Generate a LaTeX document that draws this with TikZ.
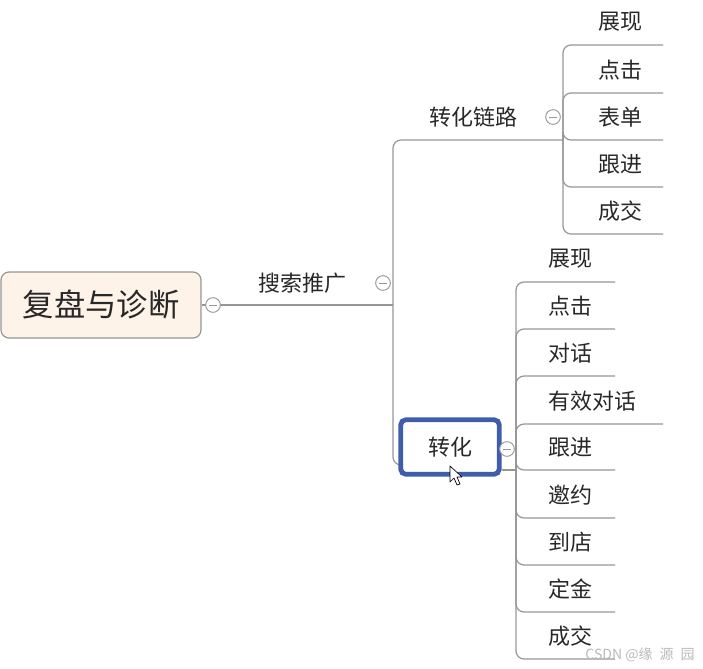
\documentclass[tikz,border=0pt]{standalone}
\usepackage{fontspec}
\setmainfont{Noto Sans CJK SC}
\usetikzlibrary{positioning, backgrounds}
\definecolor{mygray}{RGB}{150,150,150}
\definecolor{mytext}{RGB}{40,40,40}
\definecolor{rootfill}{RGB}{253,243,233}
\definecolor{selblue}{RGB}{62,94,172}
\definecolor{wmgray}{RGB}{185,185,185}
\tikzset{
  rootbox/.style={rectangle, draw=mygray, fill=rootfill, rounded corners=6pt, line width=0.9pt, minimum width=150pt, minimum height=49.5pt, font=\fontsize{23.5}{23.5}\selectfont, text=mytext},
  topic/.style={font=\fontsize{16.5}{16.5}\selectfont, text=mytext, inner sep=0pt},
  selbox/.style={rectangle, draw=selblue, fill=white, line width=3.6pt, rounded corners=4pt, minimum width=74pt, minimum height=41pt, font=\fontsize{16.5}{16.5}\selectfont, text=mytext},
  conn/.style={draw=mygray, line width=0.9pt, rounded corners=6pt},
  foldmark/.style={circle, draw=mygray, fill=white, line width=0.7pt, minimum size=11pt, inner sep=0pt, path picture={\draw[mygray, line width=0.7pt] ([xshift=-3pt]path picture bounding box.center) -- ([xshift=3pt]path picture bounding box.center);}},
  pointer/.style={fill=white, draw=black, line width=0.5pt, line join=round}
}
\begin{document}
\begin{tikzpicture}[x=0.75pt, y=-0.75pt]
  \useasboundingbox (0,0) rectangle (703,668);

  % Root topic
  \node[rootbox] (root) at (101,305) {复盘与诊断};
  \node[foldmark] (root-f) at (213,305) {};

  % Main branch
  \node[topic] (ss) at (302,283) {搜索推广};
  \node[foldmark] (ss-f) at (383,283) {};
  \coordinate (ss-o) at (393,305);

  % Upper branch and its children
  \node[topic] (zl) at (473,117) {转化链路};
  \node[foldmark] (zl-f) at (553,117) {};
  \coordinate (zl-o) at (563,140);
  \foreach \y/\lbl [count=\i] in {22/展现, 70/点击, 117/表单, 164/跟进, 211/成交}{
    \node[topic, anchor=west] (zl-\i) at (598,\y) {\lbl};
    \coordinate (zl-\i-e) at (663,\y+23);
  }

  % Lower branch (selected) and its children
  \node[selbox] (zh) at (450,447) {转化};
  \node[foldmark] (zh-f) at (507,449) {};
  \coordinate (zh-in) at (401,465);
  \coordinate (zh-o) at (516,470);
  \foreach \y/\lbl/\xe [count=\i] in {259/展现/615, 306/点击/615, 353/对话/615, 401/有效对话/663, 447/跟进/615, 495/邀约/615, 542/到店/615, 589/定金/615, 636/成交/615}{
    \node[topic, anchor=west] (zh-\i) at (548,\y) {\lbl};
    \coordinate (zh-\i-e) at (\xe,\y+23);
  }

  % Connectors
  \begin{scope}[on background layer]
    \draw[conn] (root) -- (ss-o);
    \draw[conn] (ss-o) |- (zl-o);
    \draw[conn] (ss-o) |- (zh-in);
    \draw[conn] (zh-o) -- (zh.east |- zh-o);
    \foreach \i in {1,...,5} \draw[conn] (zl-o) |- (zl-\i-e);
    \foreach \i in {1,...,9} \draw[conn] (zh-o) |- (zh-\i-e);
  \end{scope}

  % Mouse pointer
  \draw[pointer] (450,466) -- (450,482) -- (454,478) -- (457,485) -- (460,484) -- (457,477) -- (462,477) -- cycle;

  % Watermark
  \node[text=wmgray, font=\fontsize{10.5}{10.5}\selectfont] (wm) at (640,655) {CSDN @缘\enspace 源\enspace 园};
\end{tikzpicture}
\end{document}
